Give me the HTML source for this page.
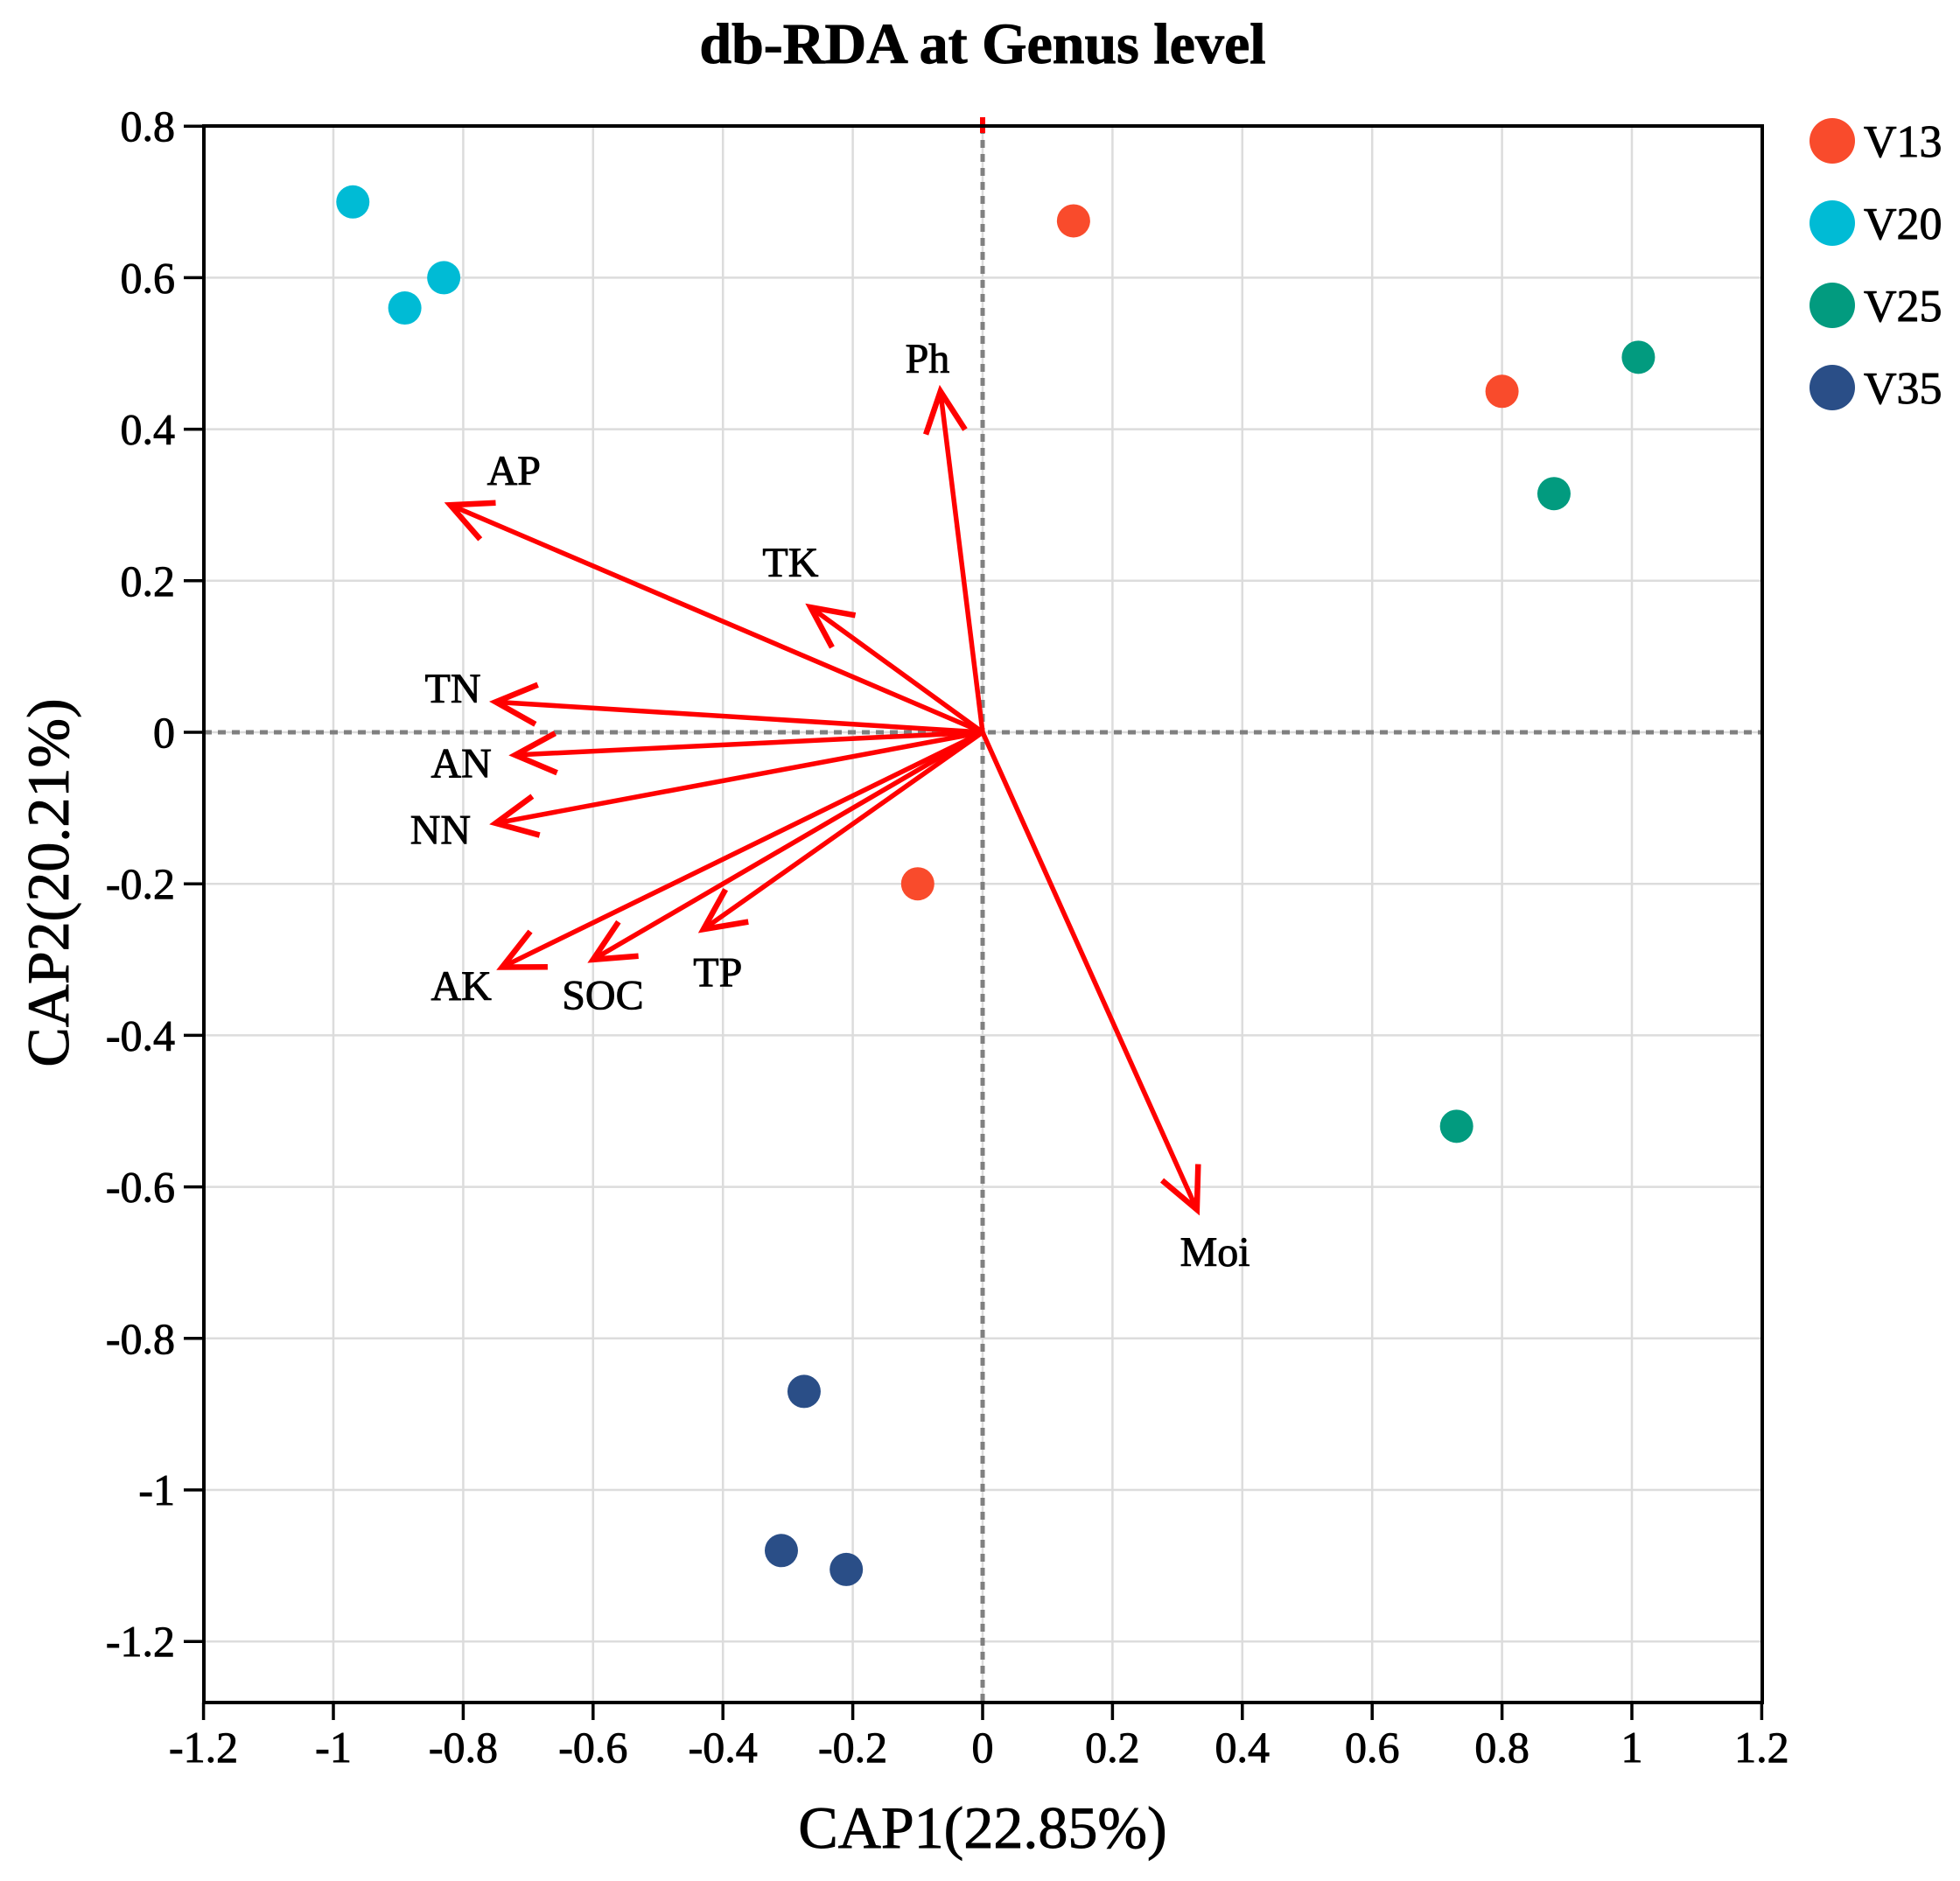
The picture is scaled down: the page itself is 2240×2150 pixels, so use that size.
<!DOCTYPE html>
<html><head><meta charset="utf-8"><style>
html,body{margin:0;padding:0;background:#fff;}
svg{display:block;font-family:"Liberation Serif",serif;}
text{stroke:#000;stroke-width:0.9px;}
</style></head><body>
<svg id="chart" width="2240" height="2150" viewBox="0 0 2240 2150" xmlns="http://www.w3.org/2000/svg">
<text x="1123" y="72" text-anchor="middle" font-size="66" font-weight="bold">db-RDA at Genus level</text>
<g id="grid"></g>
<g id="zero"></g>
<g id="arrows"></g>
<g id="points"></g>
<rect x="233" y="144" width="1781" height="1802" fill="none" stroke="#000" stroke-width="4"/>
<g id="ticks"></g>
<text x="1123" y="2112" text-anchor="middle" font-size="68">CAP1(22.85%)</text>
<text transform="translate(78,1009) rotate(-90)" text-anchor="middle" font-size="68">CAP2(20.21%)</text>
<g id="legend"></g>
</svg>
<script>
const xTicks = [-1.2,-1,-0.8,-0.6,-0.4,-0.2,0,0.2,0.4,0.6,0.8,1,1.2];
const yTicks = [0.8,0.6,0.4,0.2,0,-0.2,-0.4,-0.6,-0.8,-1,-1.2];
const groups = ["V13","V20","V25","V35"];
const groupColors = ["#F94B2C","#00BBD5","#029B7F","#2A4E87"];
const ptX = [0.14,0.80,-0.10, -0.97,-0.89,-0.83, 1.01,0.88,0.73, -0.275,-0.31,-0.21];
const ptY = [0.675,0.45,-0.20, 0.70,0.56,0.60, 0.495,0.315,-0.52, -0.87,-1.08,-1.105];
const ptGroup = [0,0,0,1,1,1,2,2,2,3,3,3];
const envNames = ["Ph","AP","TK","TN","AN","NN","AK","SOC","TP","Moi"];
const envX = [-0.065,-0.82,-0.265,-0.75,-0.72,-0.75,-0.74,-0.60,-0.43,0.33];
const envY = [0.45,0.30,0.165,0.04,-0.03,-0.12,-0.31,-0.30,-0.26,-0.63];
const labX = [-0.085,-0.722,-0.296,-0.816,-0.803,-0.835,-0.803,-0.585,-0.408,0.358];
const labY = [0.493,0.345,0.224,0.058,-0.041,-0.129,-0.335,-0.347,-0.317,-0.686];

const NS="http://www.w3.org/2000/svg";
const sx = v => 1123 + v*742;
const sy = v => 837 - v*866;
function mk(tag, attrs, parent){const e=document.createElementNS(NS,tag);for(const k in attrs)e.setAttribute(k,attrs[k]);parent.appendChild(e);return e;}
const grid=document.getElementById('grid'), ticks=document.getElementById('ticks');
xTicks.forEach(t=>{
  const l=mk('line',{x1:sx(t),x2:sx(t),y1:144,y2:1946,stroke:'#dcdcdc','stroke-width':2.5},grid);
  
  
  const tk=mk('line',{x1:sx(t),x2:sx(t),y1:1946,y2:1966,stroke:'#000','stroke-width':3.5},ticks);
  
  
  const tx=mk('text',{x:sx(t),y:2014,'text-anchor':'middle','font-size':50},ticks);
  tx.textContent=String(t);
  
  
});
yTicks.forEach(t=>{
  const l=mk('line',{x1:233,x2:2014,y1:sy(t),y2:sy(t),stroke:'#dcdcdc','stroke-width':2.5},grid);
  
  
  const tk=mk('line',{x1:210,x2:233,y1:sy(t),y2:sy(t),stroke:'#000','stroke-width':3.5},ticks);
  
  
  const tx=mk('text',{x:200,y:sy(t)+17,'text-anchor':'end','font-size':50},ticks);
  tx.textContent=String(t);
  
  
});
const zero=document.getElementById('zero');
const zh=mk('line',{x1:233,x2:2014,y1:sy(0),y2:sy(0),stroke:'#808080','stroke-width':5,'stroke-dasharray':'9 7'},zero);


const zv=mk('line',{x1:sx(0),x2:sx(0),y1:144,y2:1946,stroke:'#808080','stroke-width':5,'stroke-dasharray':'9 7'},zero);


const rm=mk('line',{x1:sx(0),x2:sx(0),y1:134,y2:152,stroke:'#ff0000','stroke-width':6},zero);



const arrows=document.getElementById('arrows');
envNames.forEach((n,i)=>{
  const x0=sx(0),y0=sy(0),x1=sx(envX[i]),y1=sy(envY[i]);
  const g=mk('g',{},arrows);
  
  
  mk('line',{x1:x0,y1:y0,x2:x1,y2:y1,stroke:'#ff0000','stroke-width':5.5},g);
  const a=Math.atan2(y1-y0,x1-x0), L=52, s=0.45;
  const p1=[x1-L*Math.cos(a-s),y1-L*Math.sin(a-s)], p2=[x1-L*Math.cos(a+s),y1-L*Math.sin(a+s)];
  mk('polyline',{points:`${p1[0]},${p1[1]} ${x1},${y1} ${p2[0]},${p2[1]}`,fill:'none',stroke:'#ff0000','stroke-width':6.5},g);
  const t=mk('text',{x:sx(labX[i]),y:sy(labY[i])+16,'text-anchor':'middle','font-size':48},g);
  t.textContent=n;
  
  
});
const points=document.getElementById('points');
ptX.forEach((x,i)=>{
  const c=mk('circle',{cx:sx(x),cy:sy(ptY[i]),r:19,fill:groupColors[ptGroup[i]]},points);
  
  
});
const legend=document.getElementById('legend');
groups.forEach((g,i)=>{
  const y=161+i*94;
  const c=mk('circle',{cx:2094,cy:y,r:26,fill:groupColors[i]},legend);
  
  
  const t=mk('text',{x:2130,y:y+18,'font-size':52},legend);
  t.textContent=g;
  
  
});
</script>
</body></html>
